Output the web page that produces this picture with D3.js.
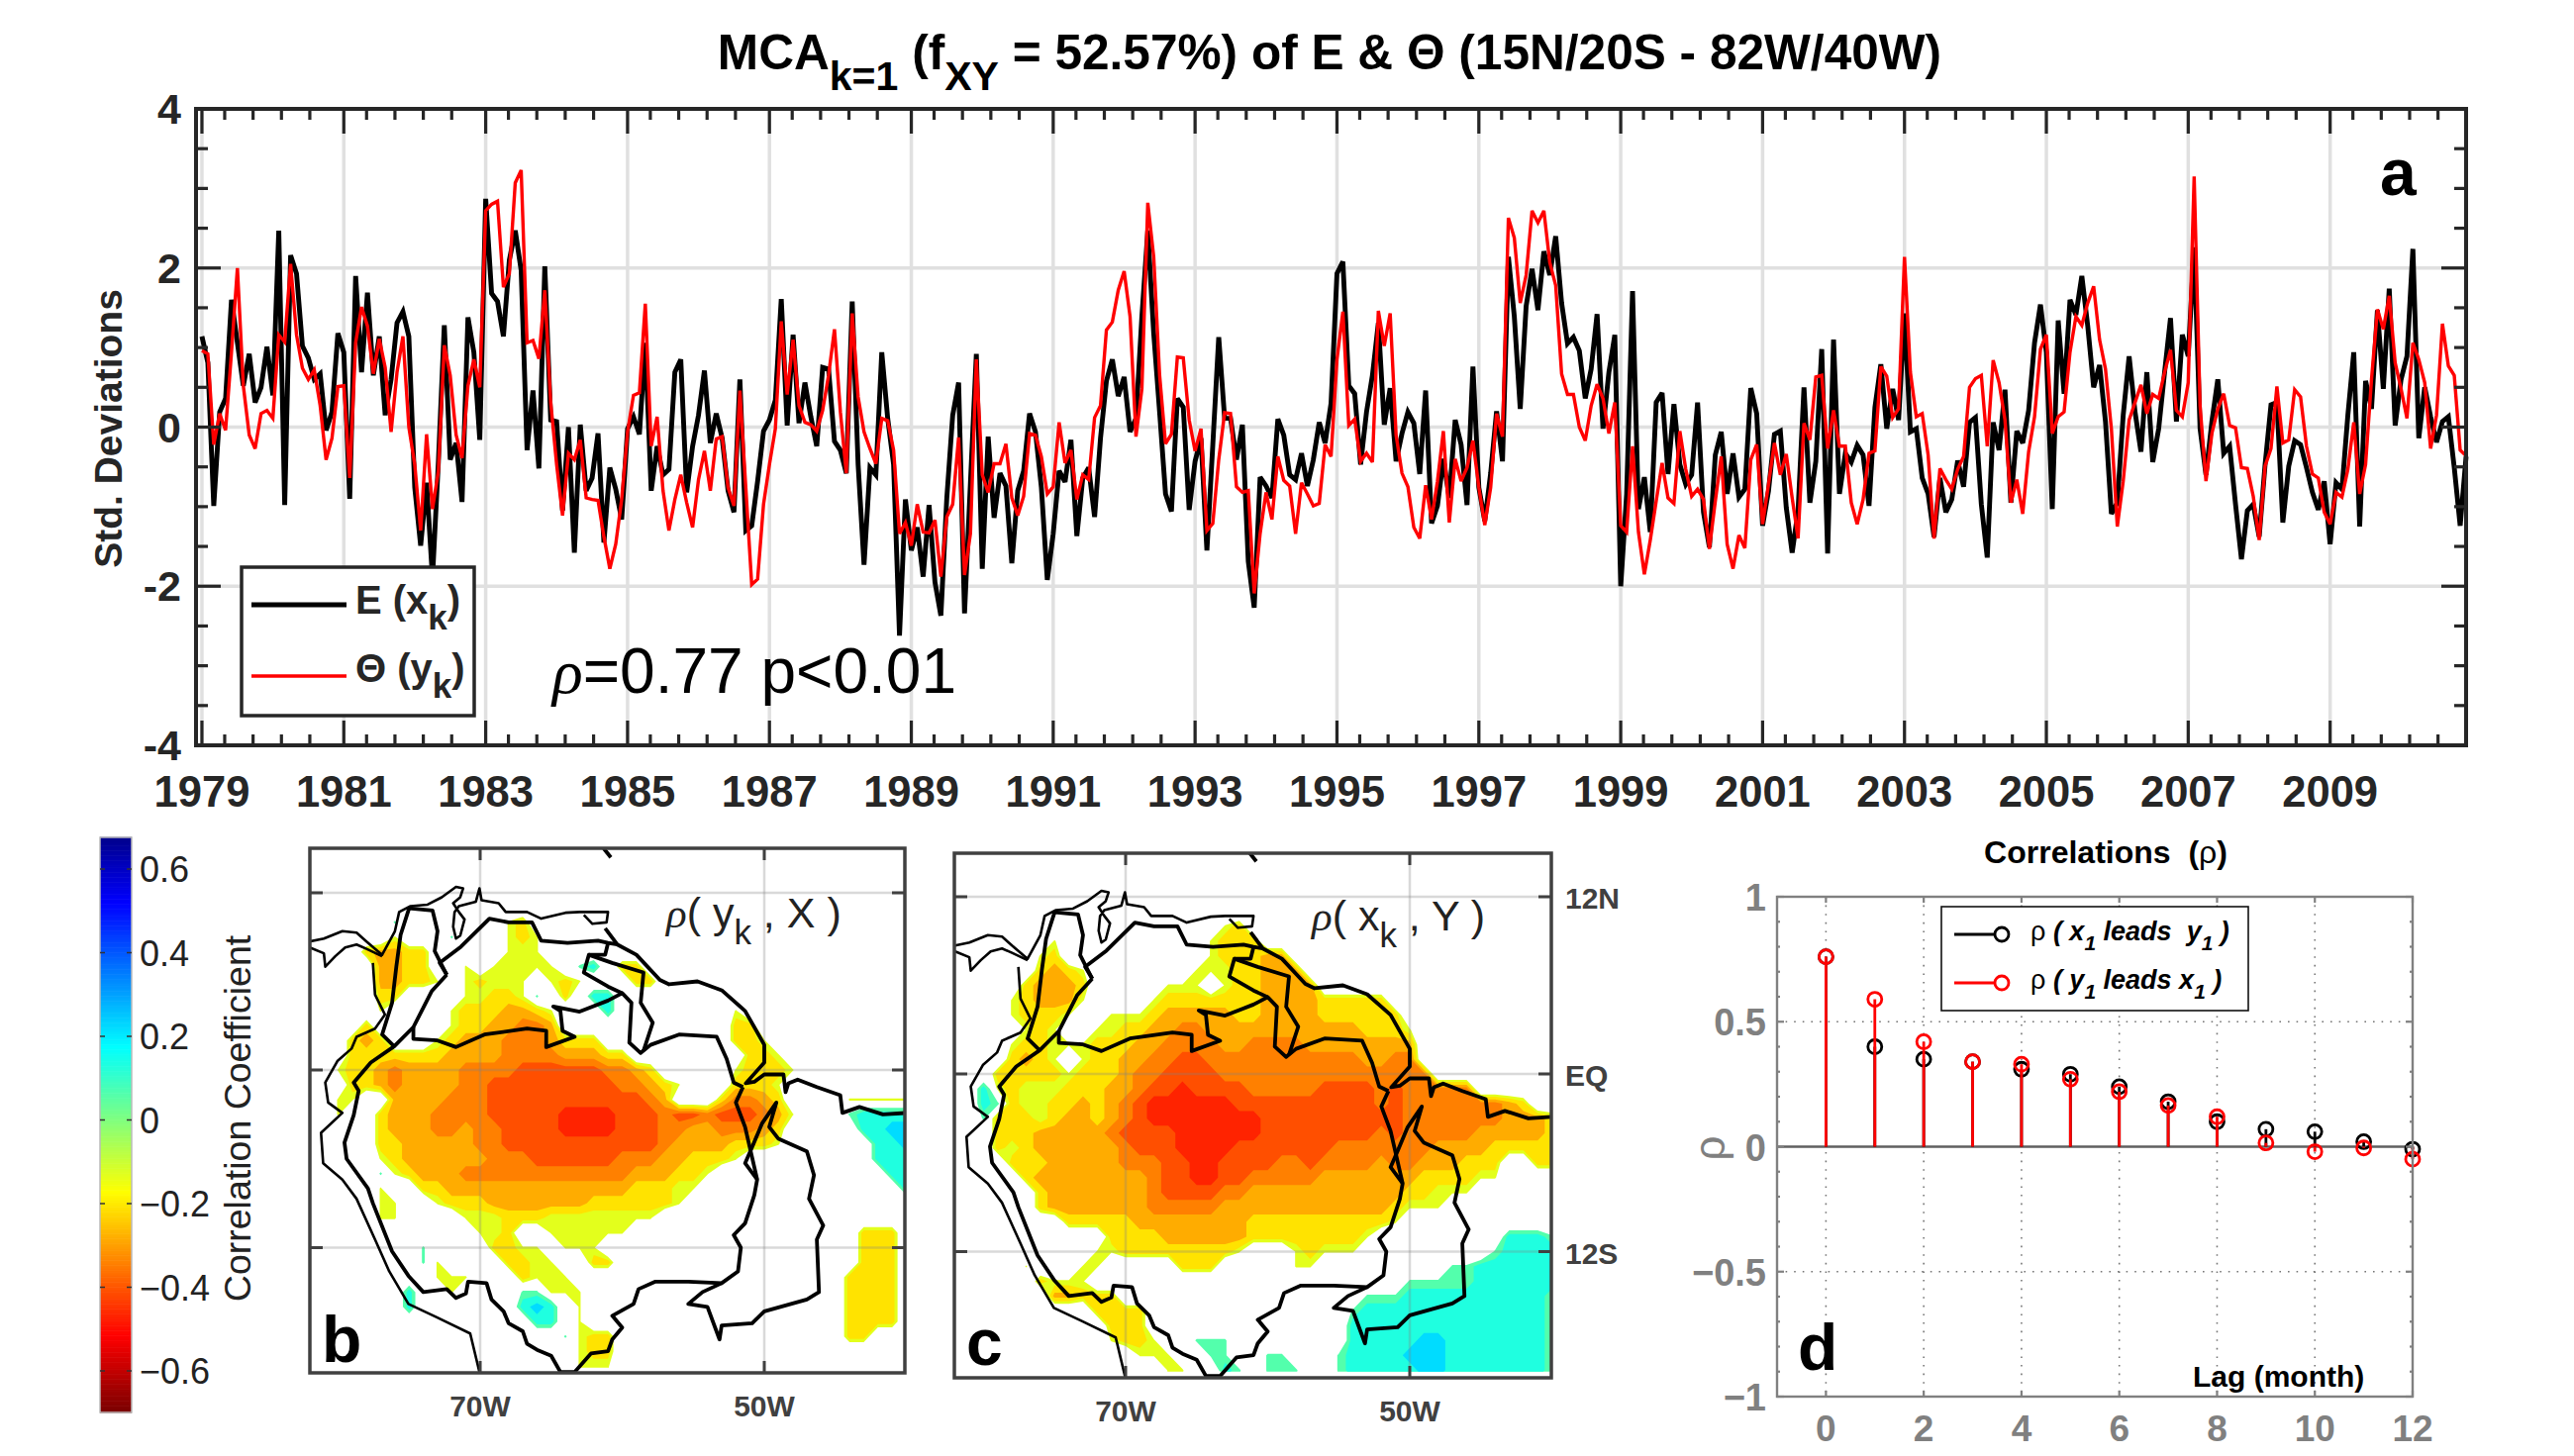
<!DOCTYPE html>
<html><head><meta charset="utf-8">
<script src="https://cdn.jsdelivr.net/npm/d3@7"></script>
<style>html,body{margin:0;padding:0;background:#fff}svg{display:block}text{font-family:"Liberation Sans",Arial,sans-serif}</style>
</head><body><svg id="c" width="2600" height="1471" viewBox="0 0 2600 1471"></svg>
<script>
// ---------- data ----------
const seriesE = [
1.14,0.81,-0.99,0.19,0.36,1.60,1.06,0.52,0.92,0.31,0.50,1.01,
0.40,2.47,-0.98,2.16,1.93,1.02,0.87,0.60,0.67,-0.04,0.19,1.18,
0.94,-0.90,1.90,0.69,1.69,0.65,1.14,0.15,0.60,1.31,1.45,1.14,
-0.76,-1.49,-0.70,-1.90,-0.43,1.28,-0.41,-0.20,-0.94,1.38,0.94,-0.16,
2.87,1.68,1.58,1.14,2.10,2.47,1.97,-0.29,0.46,-0.52,2.02,0.09,
0.07,-1.05,0.00,-1.58,0.03,-0.80,-0.64,-0.08,-1.45,-0.51,-0.78,-1.16,
-0.02,0.13,-0.09,1.06,-0.80,-0.24,-0.60,-0.53,0.69,0.85,-0.82,-0.24,
0.15,0.71,-0.20,0.17,-0.14,-0.80,-1.07,0.60,-1.30,-1.24,-0.68,-0.05,
0.09,0.34,1.61,0.02,1.16,0.05,0.56,0.13,-0.24,0.75,0.73,-0.18,
-0.29,-0.58,1.58,-0.47,-1.73,-0.51,-0.60,0.94,0.11,-0.47,-2.62,-0.91,
-1.55,-1.26,-1.88,-0.98,-1.95,-2.37,-0.89,0.15,0.56,-2.34,-0.70,0.92,
-1.78,-0.12,-1.14,-0.58,-0.74,-1.71,-0.80,-0.55,0.17,-0.06,-0.76,-1.92,
-1.34,-0.55,-0.69,-0.16,-1.37,-0.64,-0.51,-1.13,-0.14,0.58,0.85,0.39,
0.63,-0.06,0.11,1.39,2.47,1.18,0.19,-0.84,-1.06,0.36,0.25,-1.04,
-0.43,-0.14,-1.55,-0.22,1.13,0.11,0.11,-0.41,0.03,-1.69,-2.27,-0.63,
-0.74,-0.89,0.10,-0.10,-0.60,-0.66,-0.33,-0.74,-0.41,0.06,-0.20,0.30,
1.93,2.08,0.52,0.42,-0.47,0.19,0.65,1.31,0.03,0.49,-0.43,-0.08,
0.19,0.05,-0.59,0.46,-1.21,-0.99,-0.40,-0.89,0.09,-0.22,-0.98,0.76,
-0.76,-1.18,-0.58,0.20,-0.43,2.14,1.39,0.23,1.52,1.99,1.47,2.21,
1.91,2.40,1.56,1.05,1.13,0.96,0.36,0.73,1.42,-0.02,0.69,1.16,
-2.00,-0.84,1.71,-1.03,-0.63,-1.32,0.31,0.43,-0.59,0.29,-0.47,-0.72,
-0.60,0.31,-1.07,-1.51,-0.35,-0.06,-0.84,-0.33,-0.88,-0.78,0.49,0.17,
-1.24,-0.80,-0.09,-0.05,-1.01,-1.58,-1.05,0.50,-0.95,-0.43,0.98,-1.59,
1.10,-0.84,-0.33,-0.44,-0.23,-0.35,-0.99,0.25,0.79,-0.02,0.48,0.09,
1.43,-0.06,-0.02,-0.64,-0.84,-1.38,-0.64,-1.07,-0.91,-0.42,-0.75,0.06,
0.12,-0.97,-1.64,0.06,-0.29,0.47,-0.95,-0.05,-0.20,0.21,1.06,1.54,
0.94,-1.03,1.34,0.42,1.60,1.41,1.90,1.27,0.50,0.78,0.07,-1.09,
-0.95,0.15,0.89,0.19,-0.31,0.69,-0.44,-0.02,0.69,1.37,0.07,1.16,
0.89,2.26,-0.02,-0.60,0.07,0.60,-0.33,-0.24,-0.97,-1.66,-1.05,-0.97,
-1.38,-0.47,0.28,0.31,-1.20,-0.49,-0.17,-0.22,-0.51,-0.82,-1.04,-0.68,
-1.47,-0.70,-0.78,0.15,0.94,-1.25,0.58,0.23,1.47,0.48,1.74,0.02,
0.60,0.89,2.24,-0.14,0.50,0.13,-0.19,0.07,0.13,-0.51,-1.24,-0.37];
const seriesTheta = [
0.96,0.92,-0.22,0.17,-0.04,0.94,2.00,0.52,-0.10,-0.27,0.17,0.21,
0.11,1.16,1.07,2.05,1.16,0.74,0.60,0.72,0.27,-0.41,-0.14,0.51,
0.52,-0.64,1.06,1.51,1.27,0.67,1.11,0.75,-0.06,0.69,1.14,0.00,
-0.47,-1.30,-0.09,-1.03,-0.55,1.03,0.65,-0.10,-0.39,0.52,0.85,0.50,
2.72,2.80,2.84,1.76,1.93,3.07,3.23,1.06,1.09,0.86,1.72,0.31,
-0.47,-1.11,-0.33,-0.41,-0.16,-0.89,-0.91,-0.92,-1.38,-1.78,-1.47,-0.91,
-0.06,0.40,0.43,1.55,-0.24,0.13,-0.80,-1.30,-0.91,-0.60,-0.95,-1.26,
-0.66,-0.30,-0.80,-0.15,-0.12,-0.76,-0.99,0.46,-0.76,-1.98,-1.91,-0.97,
-0.47,-0.02,1.33,0.41,1.10,0.27,0.06,0.03,-0.05,0.21,0.65,1.23,
0.19,-0.58,1.43,0.38,-0.06,-0.27,-0.46,0.11,0.08,-0.29,-1.34,-1.20,
-1.49,-0.97,-1.32,-1.33,-1.17,-1.88,-1.13,-0.97,-0.13,-1.86,-1.34,0.85,
-0.60,-0.82,-0.46,-0.46,-0.21,-0.89,-1.11,-0.87,-0.08,-0.10,-0.37,-0.84,
-0.75,0.06,-0.45,-0.29,-0.91,-0.60,-0.66,0.12,0.27,1.22,1.32,1.72,
1.96,1.39,-0.12,0.48,2.82,2.14,0.65,-0.21,-0.09,0.88,0.87,0.09,
-0.30,-0.02,-1.30,-1.21,-0.41,0.18,0.17,-0.75,-0.82,-0.80,-2.09,-1.34,
-0.82,-1.16,-0.37,-0.67,-0.74,-1.34,-0.70,-0.84,-0.99,-0.96,-0.22,-0.37,
0.85,1.45,0.02,0.10,-0.43,-0.33,-0.44,1.46,1.02,1.43,-0.10,-0.58,
-0.75,-1.26,-1.40,-0.73,-1.16,-0.68,-0.05,-1.20,-0.40,-0.68,-0.51,-0.17,
-0.76,-1.23,-0.76,0.17,-0.12,2.63,2.38,1.56,1.91,2.72,2.57,2.72,
2.07,1.78,0.67,0.41,0.41,0.00,-0.17,0.27,0.54,0.36,-0.08,0.31,
-1.24,-1.32,-0.24,-1.32,-1.85,-1.42,-0.93,-0.45,-0.89,-0.96,-0.05,-0.53,
-0.87,-0.78,-0.91,-1.53,-0.93,-0.37,-1.47,-1.78,-1.36,-1.52,-0.41,-0.22,
-1.22,-0.72,-0.20,-0.60,-0.34,-0.89,-1.40,0.05,-0.16,0.63,0.65,-0.27,
0.21,-0.24,-0.24,-0.95,-1.22,-0.91,-0.33,-0.30,0.76,0.64,0.12,0.23,
2.14,0.69,0.13,0.17,-0.35,-1.40,-0.52,-0.66,-0.78,-0.53,-0.37,0.50,
0.61,0.65,-0.24,0.84,0.56,0.09,-0.95,-0.66,-1.09,-0.31,0.13,0.98,
1.16,-0.08,0.13,0.19,0.94,1.39,1.28,1.56,1.77,1.10,0.73,-0.02,
-1.25,-0.68,0.09,0.31,0.53,0.17,0.41,0.36,0.69,0.97,0.21,0.13,
0.56,3.15,0.27,-0.68,-0.08,0.23,0.42,0.02,-0.01,-0.51,-0.52,-0.87,
-1.42,-0.49,-0.27,0.51,-0.20,-0.16,0.47,0.38,-0.24,-0.59,-0.64,-1.07,
-1.22,-0.82,-0.88,-0.53,0.06,-0.84,-0.47,0.60,1.48,1.23,1.65,0.81,
0.48,0.11,1.06,0.85,0.56,-0.27,0.15,1.30,0.77,0.65,-0.29,-0.36];
const yearTicks = [1979,1981,1983,1985,1987,1989,1991,1993,1995,1997,1999,2001,2003,2005,2007,2009];
const valueTicks = [4,2,0,-2,-4];

const lags = [0,1,2,3,4,5,6,7,8,9,10,11,12];
const rhoXleads = [0.76,0.40,0.35,0.34,0.31,0.29,0.24,0.18,0.10,0.07,0.06,0.02,-0.01];
const rhoYleads = [0.76,0.59,0.42,0.34,0.33,0.27,0.22,0.165,0.12,0.015,-0.02,-0.005,-0.05];

// correlation class per 1-degree cell. One string per latitude, 15N down to 20S;
// each "n:codes" puts codes from column n on (column = degrees east of 82W).
const classValue = {a:-.14,b:-.21,c:-.27,d:-.33,e:-.39,f:-.45,m:.1,t:.16,y:.22};
const bandsNeg = [[.13,-.135],[.175,-.21],[.24,-.285],[.30,-.345],[.36,-.41],[.42,-.47]];
const bandsPos = [[.09,.06],[.13,.13],[.19,.22]];
const cellsB = ["","","","","",
"6:m 14:ab",
"6:a 10:m 14:aba",
"4:bccbb 14:aaa",
"5:ccbb 11:a 13:aaaaa 19:mt 22:bb",
"5:ccbba 11:abaaa 17:aba 23:bb",
"5:bb 11:aabba 16:m 18:b 20:tt",
"5:a 10:abbbccba 21:t 30:a",
"4:b 10:abbccddc 30:bb",
"3:bcb 9:abcccdddcbbb 30:bba",
"3:bbbbbbb 10:ccccddddcccbb 31:bba",
"2:abbcdccccddddeeeeeeddcb 30:abbba",
"3:bbcdcccc 11:ddeeeeeeeeeddcba 30:bbba",
"2:aa 6:ccccdddeeeeeeeeeeedc 29:bddcb 38:aaaaa",
"2:a 5:bcccddddeeeeeffffeeedeedeeedca 38:mtttt",
"5:bcccddcddeeeeffffeeeddccdddcb 39:ttyy",
"5:bbcccccddeeeeeeeeeeedccccbbba 40:tty",
"5:abcccccc 13:dddeeeeeedddccbbba 40:ttt",
"5:mabccc 11:dddddddddddd 23:cccbba 41:tt",
"5:a 8:bb 10:ccccccccccccc 23:bbbaa 42:t",
"5:aa 9:abbbccccccc 20:bbbbbba",
"5:aa 11:aaabbbaaaaaaaa",
"12:aab 17:aaaaaa 39:bbb",
"8:m 13:bbaa 18:aaa 39:bbb",
"8:ma 14:bbaa 20:bb 39:bbb",
"9:aaa 15:baaa 38:bbbb",
"7:t 10:a 15:mmaaa 38:bbbb",
"7:t 15:tyt 19:a 38:bbbb",
"16:tt 19:a 38:bbbb",
"18:mabb 38:bb",
"19:abb",
"19:aaa"];
const cellsC = ["","","","","",
"19:ab",
"7:a 18:abbb",
"6:ab 18:abbbcc",
"6:bcba 17:aaabbccc",
"5:bcccb 15:aaa 19:abbcccc",
"4:abccca 14:abbbbbbbccccbbbbb",
"4:abbba 11:aaabcccccbbccccbbbbbb",
"5:aba 10:aabbccddcccccccccccbbba",
"4:abbaaabbbccddddccddddcccccccc",
"4:bcba 9:abbccddee 18:ddddddddddd 29:ccdd",
"3:bbbbbabbbcdd 15:eeee 19:ddddddddddddddd",
"2:tabaaabbbccdeef 17:eeeedddddeeeededdddd",
"2:tmbaabbcbcde 14:ffffff 20:eeeeeeeeee 30:de 32:dddddddcb",
"2:mbbbabccbcde 14:ffffffff 22:eeeeeeeeee 32:ddddddd 39:cccb",
"3:bbbccccc 11:deeee 16:ffffff 22:eeeeeeee 30:de 32:ddddd 37:cccccb",
"3:bab 6:cccccc 12:deee 16:ffff 20:eeeeeee 27:ddddddd 34:cccc 38:bbbbb",
"4:bbb 7:ccccc 12:ddd 15:eeff 19:eeee 23:dde 26:dddd 30:cdd 33:ccc 36:bbb 41:bb",
"5:b 6:cccccccc 14:deeffee 21:ddddd 26:ccccccc 33:bbbbaa",
"6:b 7:ccccccc 14:deeee 19:dd 21:ccccccccccc 32:bbaaa",
"6:b 7:ccccccc 14:ddddd 19:cccccccccccc 31:baaa",
"8:bbbbb 13:cccccccc 21:bbbbbbbbbb 31:a",
"11:bbbb 15:cccccc 21:bbbbbbbba 39:tttm",
"10:aa 12:bbbbbbbb 20:a 24:abaaa 38:mtttt",
"5:a 9:aa 16:bbb 24:aa 35:mm 37:tttttt",
"6:baaa 32:mmmmm 37:tttttt",
"7:ccbbb 29:mmm 32:tttttttttt 42:m",
"10:bbbb 28:m 29:ttttttttttttt 42:m",
"11:bbb 28:tttttttttttttt 42:m",
"11:abba 17:mmm 28:ttttt 33:yy 35:ttttttt 42:m",
"13:aaa 18:mm 22:mm 27:mtttt 32:yyy 35:ttttttt 42:m",
"15:aa 19:tm 22:mmm 27:mttttt 33:yy 35:ttttttt 42:m"];
const colorTicks = [0.6,0.4,0.2,0,-0.2,-0.4,-0.6];

// outlines in [lon, lat]
const coastNorth = [[-82,8.7],[-81,8.9],[-79.7,9.4],[-78.7,9.3],[-78,8.7],[-76.9,7.8],[-76,9.4],[-75.7,10.7],[-74.9,11.1],[-73.7,11.2],[-72.7,11.7],[-71.7,12.4],[-71.2,12.3],[-71.4,11.7],[-71.9,11.3],[-71.5,10.7],[-71.1,10.2],[-71.4,9.1],[-71.7,8.9],[-71.9,9.7],[-71.8,10.7],[-71.5,11.1],[-70.3,11.4],[-70.05,12.3],[-69.9,11.5],[-68.7,11.3],[-68.2,10.7],[-66.7,10.7],[-65.7,10.25],[-64,10.65],[-63,10.7],[-61,10.7],[-61.1,10],[-62.1,9.9],[-62.7,10.5]];
const coastEast = [[-61.2,9.6],[-60.35,8.5],[-59,7.8],[-57.35,6.1],[-56.7,5.8],[-54.7,6],[-53,5.4],[-51.35,4],[-50,1.7],[-50,0.5],[-51.3,-0.9],[-50.7,-0.8],[-50,-0.3],[-48.65,-0.3],[-48.5,-1.5],[-48.3,-0.9],[-47.65,-0.65],[-46.3,-1.15],[-44.65,-1.7],[-44.5,-2.9],[-43.3,-2.5],[-41.65,-3],[-40,-2.9]];
const coastIsthmus = [[-82,8.3],[-81,7.9],[-80.9,7],[-80.2,7.7],[-79.5,8.3],[-78.7,8.5],[-78,8.2],[-76.9,7.7]];
const coastPacific = [[-77.55,7.25],[-77.4,5.1],[-76.7,3.75],[-77.4,2.8],[-78.7,2.25],[-79.05,1.45],[-80.05,0.6],[-80.9,-0.85],[-80.7,-2.2],[-79.7,-2.9],[-81.2,-4.25],[-81.05,-6.3],[-79.7,-7.4],[-78.7,-8.7],[-77.4,-11.45],[-76.4,-13.6],[-75.05,-15.8],[-73.05,-16.7],[-70.7,-17.8],[-70,-20.6]];
const amazonBasin = [[-51.5,-1.15],[-52,-2.2],[-51.35,-3.85],[-50.5,-7.4],[-50.7,-8.45],[-51.35,-10.35],[-52.15,-11.15],[-51.65,-12],[-51.85,-13.6],[-53,-14.4],[-55.35,-14.3],[-57.7,-14.3],[-58.85,-14.8],[-59.2,-15.8],[-60.7,-16.6],[-60,-17.4],[-60.7,-18.2],[-61,-19],[-62.2,-19.15],[-63.35,-20.4],[-64.35,-20.4],[-65,-19.3],[-66,-18.9],[-66.7,-18.5],[-67,-17.65],[-68,-17.1],[-68.35,-16.3],[-69.2,-15.5],[-69.55,-14.4],[-70.85,-14.3],[-71,-15.1],[-71.7,-15.4],[-72.35,-14.8],[-74,-15],[-75.05,-13.9],[-76.2,-12.25],[-77.55,-9],[-77.9,-8],[-79.4,-6],[-79.55,-4.9],[-78.9,-3.05],[-78.55,-1.4],[-78.9,-0.85],[-77.7,0.5],[-76.05,1.6],[-74.7,2.9],[-73.4,5.35],[-72.35,6.45]];
const orinocoNorth = [[-72.35,6.45],[-72.85,7.25],[-71.35,8.35],[-69.35,10.25],[-68,10],[-66.35,10],[-65.7,8.75],[-63.85,8.6],[-61.7,8.75],[-61,8.6],[-60.35,8.5]];
const magdalena = [[-76.05,1.6],[-76.9,2.4],[-76.2,4.55],[-75.9,7],[-75.6,9.15],[-75,10.95],[-73.35,10.8],[-73,9.4],[-73.2,8.05],[-72.7,7.1],[-72.35,6.45]];
const divide = [[-74.7,2.9],[-74.7,2.1],[-73,2],[-71.7,1.55],[-69.7,2.4],[-66.7,2.8],[-65.35,2.65],[-65.35,1.55],[-63.35,2.25],[-64.2,2.65],[-64.35,4],[-64.85,4.3],[-63,3.95],[-61,4.7],[-60,5.2],[-59.35,4.55],[-59.5,1.85],[-58.7,1.15],[-58,1.7],[-56,2.4],[-53.35,2.25],[-52.65,0.75],[-52.15,-0.85],[-51.5,-1.15]];
const essequibo = [[-60,5.2],[-61,5.65],[-62.7,6.6],[-62.35,7.8],[-60.7,7.25],[-58.5,6.6],[-58.7,4.55],[-57.85,3.2],[-58.5,1.3]];
const essequiboLink = [[-61,8.6],[-61.2,7.8],[-62.35,7.8]];
const tocantins = [[-50.5,-7.4],[-51.35,-6.3],[-50.85,-5.2],[-50.15,-3.6],[-49.15,-2.2],[-49.65,-3.85],[-49,-4.65],[-47,-5.5],[-46.5,-7.1],[-46.85,-8.7],[-45.85,-10.5],[-46.3,-11.45],[-46.15,-15],[-47,-15.5],[-50,-16.3],[-50.85,-17.1],[-53,-17.25],[-53.15,-18.2],[-54,-16],[-55.35,-15.8],[-54.35,-15],[-53,-14.4]];
const topMark = [[-61.3,15],[-60.8,14.4]];
const thinLines = [coastNorth,coastIsthmus,coastPacific];
const thickLines = [coastEast,amazonBasin,orinocoNorth,magdalena,divide,essequibo,essequiboLink,tocantins,topMark];

// ---------- helpers ----------
const svg = d3.select('#c');
const FG = '#262626';
function label(sel,x,y,parts,opt={}){
  const t = sel.append('text').attr('x',x).attr('y',y)
    .attr('font-size',opt.size).attr('font-weight',opt.weight||'normal')
    .attr('fill',opt.fill||'#000').attr('text-anchor',opt.anchor||'start');
  if(opt.rotate!==undefined) t.attr('transform',`rotate(${opt.rotate} ${x} ${y})`);
  let shift = 0;
  parts.forEach(p=>{
    const ts = t.append('tspan').text(p.t);
    const want = p.sub ? (opt.subDy||opt.size*.42) : 0;
    if(want!==shift){ ts.attr('dy',want-shift); shift=want; }
    if(p.sub) ts.attr('font-size',opt.subSize||opt.size*.76);
    if(p.style) ts.attr('font-style',p.style);
    if(p.family) ts.attr('font-family',p.family);
    if(p.weight) ts.attr('font-weight',p.weight);
  });
  return t;
}
const SERIF='"Liberation Serif",serif';

// title
label(svg,1343,70,[{t:'MCA'},{t:'k=1',sub:1},{t:' (f'},{t:'XY',sub:1},{t:' = 52.57%) of E & Θ (15N/20S - 82W/40W)'}],
  {size:49.6,weight:'bold',anchor:'middle',subDy:21,subSize:41});

// ---------- panel a ----------
const ax = d3.scaleLinear([-1,383],[198,2491]);
const ay = d3.scaleLinear([-4,4],[753,110]);
const monthOf = y=>(y-1979)*12;
const a = svg.append('g');
const grid = a.append('g').attr('stroke','#e0e0e0').attr('stroke-width',3.5);
yearTicks.forEach(y=>grid.append('line').attr('x1',ax(monthOf(y))).attr('x2',ax(monthOf(y))).attr('y1',ay(4)).attr('y2',ay(-4)));
[2,0,-2].forEach(v=>grid.append('line').attr('x1',ax.range()[0]).attr('x2',ax.range()[1]).attr('y1',ay(v)).attr('y2',ay(v)));
const lineA = d3.line().x((d,i)=>ax(i)).y(d=>ay(d));
a.append('path').datum(seriesE).attr('d',lineA).attr('fill','none').attr('stroke','#000').attr('stroke-width',4.9).attr('stroke-linejoin','miter').attr('stroke-miterlimit',3);
a.append('path').datum(seriesTheta).attr('d',lineA).attr('fill','none').attr('stroke','#f00').attr('stroke-width',3.4).attr('stroke-linejoin','miter').attr('stroke-miterlimit',3);
const tk = a.append('g').attr('stroke',FG).attr('stroke-width',3.2);
const [L,R] = ax.range(), T=ay(4), B=ay(-4);
yearTicks.forEach(y=>{
  const X=ax(monthOf(y));
  tk.append('line').attr('x1',X).attr('x2',X).attr('y1',T).attr('y2',T+25);
  tk.append('line').attr('x1',X).attr('x2',X).attr('y1',B).attr('y2',B-25);
  [3.85,8.65,13.45,18.25].forEach(m=>{
    const mX=ax(monthOf(y)+m); if(mX>R-3) return;
    tk.append('line').attr('x1',mX).attr('x2',mX).attr('y1',T).attr('y2',T+11);
    tk.append('line').attr('x1',mX).attr('x2',mX).attr('y1',B).attr('y2',B-11);
  });
  a.append('text').attr('x',X).attr('y',815).attr('text-anchor','middle').attr('font-size',43.5).attr('font-weight','bold').attr('fill',FG).text(y);
});
d3.range(-3.5,4,0.5).forEach(v=>{
  const len = Math.abs(v%2)<1e-6?25:12;
  tk.append('line').attr('x1',L).attr('x2',L+len).attr('y1',ay(v)).attr('y2',ay(v));
  tk.append('line').attr('x1',R).attr('x2',R-len).attr('y1',ay(v)).attr('y2',ay(v));
});
valueTicks.forEach(v=>a.append('text').attr('x',183).attr('y',ay(v)+15).attr('text-anchor','end').attr('font-size',43).attr('font-weight','bold').attr('fill',FG).text(v));
a.append('rect').attr('x',L).attr('y',T).attr('width',R-L).attr('height',B-T).attr('fill','none').attr('stroke',FG).attr('stroke-width',4);
label(svg,123,433,[{t:'Std. Deviations'}],{size:39,weight:'bold',fill:FG,anchor:'middle',rotate:-90});
svg.append('rect').attr('x',244).attr('y',573).attr('width',235).attr('height',150).attr('fill','#fff').attr('stroke',FG).attr('stroke-width',3.5);
svg.append('line').attr('x1',254).attr('x2',350).attr('y1',611).attr('y2',611).attr('stroke','#000').attr('stroke-width',4.9);
svg.append('line').attr('x1',254).attr('x2',350).attr('y1',683).attr('y2',683).attr('stroke','#f00').attr('stroke-width',3.4);
label(svg,359,620,[{t:'E (x'},{t:'k',sub:1},{t:')'}],{size:40,weight:'bold',fill:FG,subDy:16,subSize:35});
label(svg,359,689,[{t:'Θ (y'},{t:'k',sub:1},{t:')'}],{size:40,weight:'bold',fill:FG,subDy:16,subSize:35});
label(svg,558,700,[{t:'ρ',style:'italic',family:SERIF},{t:'=0.77 p<0.01'}],{size:64});
label(svg,2404,197,[{t:'a'}],{size:66,weight:'bold'});

// ---------- colour ----------
const jet = d3.scaleLinear()
  .domain([-.69,-.5175,-.1725,.1725,.5175,.69])
  .range(['#800000','#ff0000','#ffff00','#00ffff','#0000ff','#000080']);

const cb = d3.scaleLinear([-0.6,0.6],[1385,878]);
const cbG = svg.append('g');
const cbTop = 846, cbBot = 1427;
const cbVals = d3.range(cb.invert(cbBot),cb.invert(cbTop),0.004);
cbG.selectAll('rect').data(cbVals).join('rect')
  .attr('x',101).attr('width',32).attr('y',d=>cb(d+0.004)).attr('height',d=>cb(d)-cb(d+0.004)+0.6).attr('fill',d=>jet(d));
cbG.append('rect').attr('x',101).attr('y',cbTop).attr('width',32).attr('height',cbBot-cbTop).attr('fill','none').attr('stroke','#bbb').attr('stroke-width',1.5);
colorTicks.forEach(v=>{
  cbG.append('line').attr('x1',101).attr('x2',106).attr('y1',cb(v)).attr('y2',cb(v)).attr('stroke','#333').attr('stroke-width',1.5);
  cbG.append('line').attr('x1',128).attr('x2',133).attr('y1',cb(v)).attr('y2',cb(v)).attr('stroke','#333').attr('stroke-width',1.5);
  cbG.append('text').attr('x',141).attr('y',cb(v)+13).attr('font-size',36).attr('fill','#222').text(v<0?'−'+(-v):v);
});
label(svg,253,1130,[{t:'Correlation Coefficient'}],{size:37.5,anchor:'middle',rotate:-90,fill:'#222'});

// ---------- maps ----------
function expandCells(rows){
  const nc=43;
  const out=[];
  rows.forEach(r=>{
    const row=new Array(nc).fill(0);
    r.split(' ').filter(Boolean).forEach(run=>{
      const [s,codes]=run.split(':');
      [...codes].forEach((ch,i)=>{ if(+s+i<nc) row[+s+i]=classValue[ch]; });
    });
    out.push(...row);
  });
  return out;
}
let clipId=0;
function drawMap(rows,box,ticksLon,ticksLat){
  const x = d3.scaleLinear([-70,-50],[ticksLon[0],ticksLon[1]]);
  const y = d3.scaleLinear([12,0,-12],ticksLat);
  const g = svg.append('g');
  const id='clip'+(clipId++);
  g.append('clipPath').attr('id',id).append('rect').attr('x',box.l).attr('y',box.t).attr('width',box.r-box.l).attr('height',box.b-box.t);
  const id2='clipF'+clipId;
  g.append('clipPath').attr('id',id2).append('rect').attr('x',box.l).attr('y',box.t).attr('width',box.r-box.l).attr('height',y(-20.1)-box.t);
  const proj = d3.geoTransform({point(px,py){this.stream.point(x(-82+(px-.5)),y(15-(py-.5)));}});
  const path = d3.geoPath(proj);
  const fillG = g.append('g').attr('clip-path',`url(#${id2})`);
  const flat = expandCells(rows);
  const flatNeg = flat.map(v=>v<0?-v:0);
  const flatPos = flat.map(v=>v>0?v:0);
  const cont = d3.contours().size([43,rows.length]);
  bandsNeg.forEach(([th,cv])=>fillG.append('path').attr('d',path(cont.contour(flatNeg,th))).attr('fill',jet(cv)));
  bandsPos.forEach(([th,cv])=>fillG.append('path').attr('d',path(cont.contour(flatPos,th))).attr('fill',jet(cv)));
  const gr = g.append('g').attr('stroke','#808080').attr('stroke-opacity',.3).attr('stroke-width',2.5);
  [-70,-50].forEach(v=>gr.append('line').attr('x1',x(v)).attr('x2',x(v)).attr('y1',box.t).attr('y2',box.b));
  [12,0,-12].forEach(v=>gr.append('line').attr('y1',y(v)).attr('y2',y(v)).attr('x1',box.l).attr('x2',box.r));
  const ol = d3.line().x(d=>x(d[0])).y(d=>y(d[1]));
  const og = g.append('g').attr('clip-path',`url(#${id})`).attr('fill','none').attr('stroke','#000').attr('stroke-linejoin','round');
  thinLines.forEach(l=>og.append('path').attr('d',ol(l)).attr('stroke-width',2.6));
  thickLines.forEach(l=>og.append('path').attr('d',ol(l)).attr('stroke-width',3.8));
  const tg = g.append('g').attr('stroke','#404040').attr('stroke-width',3);
  [12,0,-12].forEach(v=>{
    tg.append('line').attr('y1',y(v)).attr('y2',y(v)).attr('x1',box.l).attr('x2',box.l+13);
    tg.append('line').attr('y1',y(v)).attr('y2',y(v)).attr('x1',box.r).attr('x2',box.r-13);
  });
  [-70,-50].forEach(v=>{
    tg.append('line').attr('x1',x(v)).attr('x2',x(v)).attr('y1',box.t).attr('y2',box.t+12);
    tg.append('line').attr('x1',x(v)).attr('x2',x(v)).attr('y1',box.b).attr('y2',box.b-12);
    g.append('text').attr('x',x(v)).attr('y',box.b+44).attr('text-anchor','middle').attr('font-size',30).attr('font-weight','bold').attr('fill','#404040').text(-v+'W');
  });
  g.append('rect').attr('x',box.l).attr('y',box.t).attr('width',box.r-box.l).attr('height',box.b-box.t).attr('fill','none').attr('stroke','#404040').attr('stroke-width',3.5);
  return {x,y};
}
drawMap(cellsB,{l:313,r:914,t:857,b:1387},[485,772],[902,1081,1260.5]);
const mc = drawMap(cellsC,{l:964,r:1567,t:862,b:1392},[1137,1424],[906,1085,1264.5]);
[[12,'12N'],[0,'EQ'],[-12,'12S']].forEach(([v,s])=>svg.append('text').attr('x',1581).attr('y',mc.y(v)+12).attr('font-size',30).attr('font-weight','bold').attr('fill','#404040').text(s));
label(svg,673,937,[{t:'ρ',style:'italic',family:SERIF},{t:'( y'},{t:'k',sub:1},{t:' , X )'}],{size:43,fill:'#222',subDy:17,subSize:35});
label(svg,1325,940,[{t:'ρ',style:'italic',family:SERIF},{t:'( x'},{t:'k',sub:1},{t:' , Y )'}],{size:43,fill:'#222',subDy:17,subSize:35});
label(svg,325,1376,[{t:'b'}],{size:66,weight:'bold'});
label(svg,976,1379,[{t:'c'}],{size:66,weight:'bold'});

// ---------- panel d ----------
const dx = d3.scaleLinear([-1,12],[1795,2437]);
const dy = d3.scaleLinear([-1,1],[1411,906]);
const GR='#808080';
const d = svg.append('g');
const dot = d.append('g').attr('stroke','#777').attr('stroke-width',1.6).attr('stroke-dasharray','1.6 7');
[0,2,4,6,8,10].forEach(v=>dot.append('line').attr('x1',dx(v)).attr('x2',dx(v)).attr('y1',906).attr('y2',1411));
[-.5,.5].forEach(v=>dot.append('line').attr('y1',dy(v)).attr('y2',dy(v)).attr('x1',1795).attr('x2',2437));
d.append('line').attr('x1',1795).attr('x2',2437).attr('y1',dy(0)).attr('y2',dy(0)).attr('stroke','#606060').attr('stroke-width',2.6);
function stems(vals,col){
  d.selectAll(null).data(lags).join('line').attr('x1',l=>dx(l)).attr('x2',l=>dx(l)).attr('y1',dy(0)).attr('y2',l=>dy(vals[l])).attr('stroke',col).attr('stroke-width',2.8);
  d.selectAll(null).data(lags).join('circle').attr('cx',l=>dx(l)).attr('cy',l=>dy(vals[l])).attr('r',7).attr('fill','none').attr('stroke',col).attr('stroke-width',2.8);
}
stems(rhoXleads,'#000'); stems(rhoYleads,'#f00');
const dtk = d.append('g').attr('stroke',GR).attr('stroke-width',2.2);
[0,2,4,6,8,10,12].forEach(v=>{
  dtk.append('line').attr('x1',dx(v)).attr('x2',dx(v)).attr('y1',906).attr('y2',912);
  dtk.append('line').attr('x1',dx(v)).attr('x2',dx(v)).attr('y1',1411).attr('y2',1405);
  d.append('text').attr('x',dx(v)).attr('y',1456).attr('text-anchor','middle').attr('font-size',37).attr('font-weight','bold').attr('fill',GR).text(v);
});
d3.range(-1,1.01,0.1).forEach(v=>{
  const maj = Math.abs((v*2)-Math.round(v*2))<1e-6;
  dtk.append('line').attr('x1',1795).attr('x2',1795+(maj?7:3)).attr('y1',dy(v)).attr('y2',dy(v));
  dtk.append('line').attr('x1',2437).attr('x2',2437-(maj?7:3)).attr('y1',dy(v)).attr('y2',dy(v));
});
[[1,'1'],[.5,'0.5'],[0,'0'],[-.5,'−0.5'],[-1,'−1']].forEach(([v,s])=>d.append('text').attr('x',1784).attr('y',dy(v)+14).attr('text-anchor','end').attr('font-size',38).attr('font-weight','bold').attr('fill',GR).text(s));
d.append('rect').attr('x',1795).attr('y',906).attr('width',642).attr('height',505).attr('fill','none').attr('stroke',GR).attr('stroke-width',2.4);
label(svg,1742,1160,[{t:'ρ'}],{size:44,fill:GR,anchor:'middle',rotate:-90});
label(svg,2127,872,[{t:'Correlations\u00a0\u00a0('},{t:'ρ',weight:'normal'},{t:')'}],{size:32,weight:'bold',anchor:'middle'});
label(svg,2215,1401,[{t:'Lag (month)'}],{size:30,weight:'bold'});
label(svg,1816,1384,[{t:'d'}],{size:66,weight:'bold'});
svg.append('rect').attr('x',1961).attr('y',916).attr('width',310).attr('height',105).attr('fill','#fff').attr('stroke','#111').attr('stroke-width',1.6);
[[944,'#000'],[993,'#f00']].forEach(([yy,c])=>{
  svg.append('line').attr('x1',1974).attr('x2',2022).attr('y1',yy).attr('y2',yy).attr('stroke',c).attr('stroke-width',2.8);
  svg.append('circle').attr('cx',2022).attr('cy',yy).attr('r',7).attr('fill','#fff').attr('stroke',c).attr('stroke-width',2.8);
});
const BI={style:'italic',weight:'bold'};
label(svg,2051,950,[{t:'ρ ',weight:'normal'},{t:'( x',...BI},{t:'1',sub:1,...BI},{t:' leads\u00a0\u00a0y',...BI},{t:'1',sub:1,...BI},{t:' )',...BI}],{size:27,subDy:10,subSize:21});
label(svg,2051,999,[{t:'ρ ',weight:'normal'},{t:'( y',...BI},{t:'1',sub:1,...BI},{t:' leads x',...BI},{t:'1',sub:1,...BI},{t:' )',...BI}],{size:27,subDy:10,subSize:21});
</script></body></html>
